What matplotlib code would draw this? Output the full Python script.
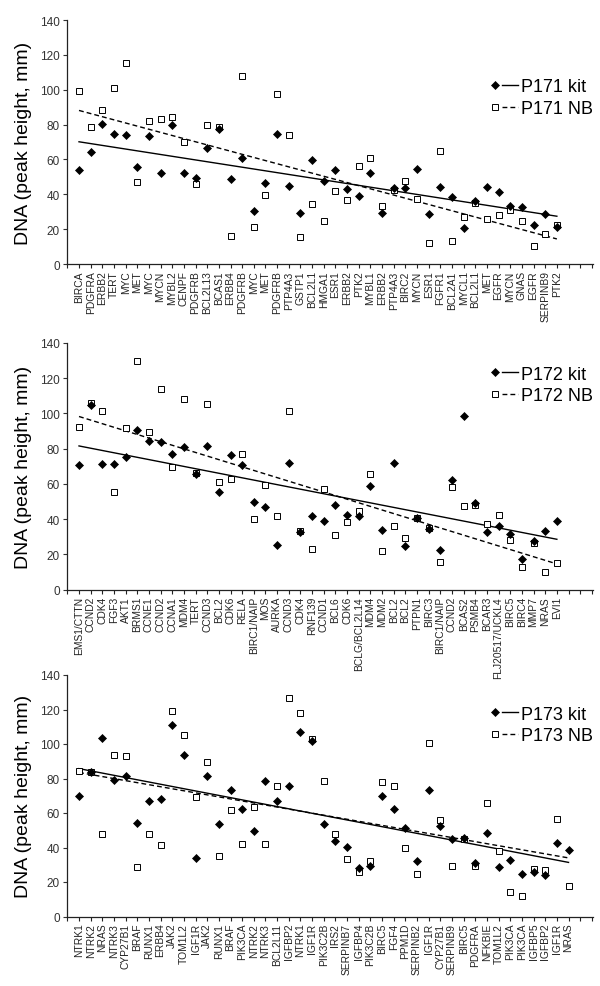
import numpy as np
import matplotlib
matplotlib.use("Agg")
import matplotlib.pyplot as plt
from matplotlib.lines import Line2D

plt.rcParams['font.family'] = ['Liberation Sans', 'DejaVu Sans']

# ---------------- data ----------------
genes_171 = ["BIRCA", "PDGFRA", "ERBB2", "TERT", "MYC", "MET", "MYC", "MYCN", "MYBL2", "CENPF",
             "PDGFRB", "BCL2L13", "BCAS1", "ERBB4", "PDGFRB", "MYC", "MET", "PDGFRB", "PTP4A3", "GSTP1",
             "BCL2L1", "HMGA1", "ESR1", "ERBB2", "PTK2", "MYBL1", "ERBB2", "PTP4A3", "BIRC2", "MYCN",
             "ESR1", "FGFR1", "BCL2A1", "MYCL1", "BCL2L1", "MET", "EGFR", "MYCN", "GNAS", "EGFR",
             "SERPINB9", "PTK2"]
kit_171 = [53.7, 64.4, 80.3, 74.8, 73.8, 55.8, 73.4, 52.2, 79.9, 52.0,
           49.2, 66.7, 77.5, 48.6, 60.8, 30.2, 46.5, 74.8, 44.7, 29.4,
           59.7, 47.8, 53.9, 43.2, 39.0, 52.4, 29.4, 43.8, 43.8, 54.3,
           28.7, 44.4, 38.2, 20.7, 36.3, 44.4, 41.1, 33.5, 32.9, 22.4,
           28.7, 21.0]
nb_171 = [99.2, 78.8, 88.5, 101.1, 115.3, 46.9, 81.8, 83.0, 84.1, 69.8,
          45.9, 79.9, 78.8, 16.2, 108.0, 21.0, 39.6, 97.5, 74.2, 15.7,
          34.6, 24.7, 41.9, 36.5, 56.4, 61.0, 33.0, 42.5, 47.4, 37.1,
          11.9, 64.6, 13.4, 27.0, 35.0, 26.0, 27.9, 31.0, 24.7, 10.3,
          17.4, 22.4]

genes_172 = ["EMS1/CTTN", "CCND2", "CDK4", "FGF3", "AKT1", "BRMS1", "CCNE1", "CCND2", "CCNA1", "MDM4",
             "TERT", "CCND3", "BCL2", "CDK6", "RELA", "BIRC1/NAIP", "MOS", "AURKA", "CCND3", "CDK4",
             "RNF139", "CCND1", "BCL6", "CDK6", "BCLG/BCL2L14", "MDM4", "MDM2", "BCL2", "BCL2", "PTPN1",
             "BIRC3", "BIRC1/NAIP", "CCND2", "BCAS2", "PSMB4", "BCAR3", "FLJ20517/UCKL4", "BIRC5", "BIRC4", "MMP7",
             "NRAS", "EVI1"]
kit_172 = [70.9, 104.8, 71.5, 71.3, 75.5, 90.4, 84.6, 83.8, 77.0, 80.8,
           65.8, 81.3, 55.2, 76.2, 70.9, 49.9, 47.1, 25.3, 72.1, 32.5,
           41.6, 39.2, 48.1, 42.6, 41.8, 58.6, 33.7, 71.9, 24.8, 40.7,
           34.2, 22.7, 62.2, 98.6, 49.0, 32.5, 35.9, 31.6, 17.4, 27.8,
           33.5, 38.8]
nb_172 = [92.1, 106.1, 101.6, 55.6, 91.9, 129.6, 89.7, 113.7, 69.6, 108.0,
          66.2, 105.6, 61.1, 63.0, 77.2, 40.1, 59.2, 41.6, 101.6, 33.5,
          23.1, 57.1, 31.2, 38.4, 44.6, 65.6, 21.8, 36.1, 29.1, 40.7,
          34.8, 15.7, 58.3, 47.3, 48.1, 37.3, 42.6, 28.2, 12.7, 26.3,
          10.2, 15.1]

genes_173 = ["NTRK1", "NTRK2", "NRAS", "NTRK3", "CYP27B1", "BRAF", "RUNX1", "ERBB4", "JAK2", "TOM1L2",
             "IGF1R", "JAK2", "RUNX1", "BRAF", "PIK3CA", "NTRK2", "NTRK3", "BCL2L11", "IGFBP2", "NTRK1",
             "IGF1R", "PIK3C2B", "IRS2", "SERPINB7", "IGFBP4", "PIK3C2B", "BIRC5", "FGF4", "PPM1D", "SERPINB2",
             "IGF1R", "CYP27B1", "SERPINB9", "BIRC5", "PDGFRA", "NFKBIE", "TOM1L2", "PIK3CA", "PIK3CA", "IGFBP5",
             "IGFBP2", "IGF1R", "NRAS"]
kit_173 = [69.8, 83.7, 103.4, 78.9, 81.2, 54.4, 66.9, 68.0, 110.9, 93.9,
           33.7, 81.7, 53.4, 73.1, 62.1, 49.7, 78.3, 66.9, 75.4, 107.2,
           102.0, 53.8, 43.5, 40.5, 27.9, 29.5, 69.8, 62.1, 51.5, 32.4,
           73.1, 52.4, 44.9, 45.7, 30.8, 48.4, 28.5, 32.6, 24.6, 25.6,
           23.9, 42.8, 38.5]
nb_173 = [84.6, 83.7, 48.0, 93.8, 93.2, 28.9, 48.0, 41.2, 119.2, 105.1,
          69.4, 89.3, 34.9, 61.9, 42.0, 63.2, 42.0, 75.8, 126.7, 118.0,
          102.8, 78.8, 48.0, 33.1, 25.8, 32.0, 77.7, 75.4, 39.5, 24.4,
          100.8, 55.9, 29.5, 44.7, 29.5, 65.7, 38.1, 14.0, 11.7, 27.5,
          27.1, 56.3, 17.9]

panels = [
    ("P171", genes_171, kit_171, nb_171),
    ("P172", genes_172, kit_172, nb_172),
    ("P173", genes_173, kit_173, nb_173),
]
y_ticks = [0, 20, 40, 60, 80, 100, 120, 140]


# ---------------- legend handler: marker then line ----------------
class MarkerThenLine:
    def __init__(self, marker_kw, line_kw):
        self.marker_kw = marker_kw
        self.line_kw = line_kw

    def legend_artist(self, legend, orig_handle, fontsize, handlebox):
        x0, y0 = handlebox.xdescent, handlebox.ydescent
        w, h = handlebox.width, handlebox.height
        yc = y0 + h / 2.0
        tr = handlebox.get_transform()
        mk = Line2D([x0 + 0.12 * w], [yc], linestyle='none', transform=tr, **self.marker_kw)
        ln = Line2D([x0 + 0.38 * w, x0 + w], [yc, yc], transform=tr, **self.line_kw)
        handlebox.add_artist(ln)
        handlebox.add_artist(mk)
        return ln


kit_marker = dict(marker='D', markersize=4.0, markerfacecolor='black', markeredgecolor='black',
                  markeredgewidth=0.5)
nb_marker = dict(marker='s', markersize=4.3, markerfacecolor='white', markeredgecolor='black',
                 markeredgewidth=0.7)
kit_line = dict(color='black', linewidth=1.0, linestyle='-')
nb_line = dict(color='black', linewidth=1.0, linestyle=(0, (3.5, 2.2)))

fig = plt.figure(figsize=(6.0, 9.87), dpi=100)
W, H = 600.0, 987.0
ax_px = [(21, 265, 0.682), (344, 590.7, 0.83), (676, 917.5, 0.793)]
left_px, right_px = 67, 593

for (name, genes, kit, nb), (top, bot, leg_y) in zip(panels, ax_px):
    ax = fig.add_axes([left_px / W, 1 - bot / H, (right_px - left_px) / W, (bot - top) / H])
    ax.patch.set_visible(False)
    x = np.arange(len(genes))
    kit = np.asarray(kit)
    nb = np.asarray(nb)

    # regression lines
    pk = np.polyfit(x, kit, 1)
    pn = np.polyfit(x, nb, 1)
    xe = np.array([x[0], x[-1]])
    ax.plot(xe, np.polyval(pk, xe), zorder=2, **kit_line)
    ax.plot(xe, np.polyval(pn, xe), zorder=2, **nb_line)

    ax.plot(x, nb, linestyle='none', zorder=3, **nb_marker)
    ax.plot(x, kit, linestyle='none', zorder=4, **kit_marker)

    ax.set_xlim(-1.03, 44.1)
    ax.set_ylim(0, 140)
    ax.set_yticks(y_ticks)
    ax.set_xticks(np.arange(-1, 45))
    labels = list(genes) + [''] * (45 - len(genes))
    ax.set_xticklabels([''] + labels, rotation=90, fontsize=7.4)
    ax.tick_params(axis='x', length=3, width=0.8, pad=1.5, colors='#222222')
    ax.tick_params(axis='y', length=3, width=0.8, pad=2, labelsize=8.5, colors='#333333')
    for s in ['top', 'right']:
        ax.spines[s].set_visible(False)
    for s in ['left', 'bottom']:
        ax.spines[s].set_linewidth(0.9)
        ax.spines[s].set_color('#222222')
    ax.set_ylabel("DNA (peak height, mm)", fontsize=14)
    ax.yaxis.set_label_coords(-0.066, 0.5)

    h1 = Line2D([], [], **kit_line)
    h2 = Line2D([], [], **nb_line)
    ax.legend([h1, h2], [f"{name} kit", f"{name} NB"],
              handler_map={h1: MarkerThenLine(kit_marker, kit_line),
                           h2: MarkerThenLine(nb_marker, nb_line)},
              loc='center right', bbox_to_anchor=(1.0, leg_y), frameon=False,
              fontsize=13, handlelength=1.45, handletextpad=0.15, labelspacing=0.25,
              borderaxespad=0, borderpad=0)

fig.savefig("out.png", dpi=100)
